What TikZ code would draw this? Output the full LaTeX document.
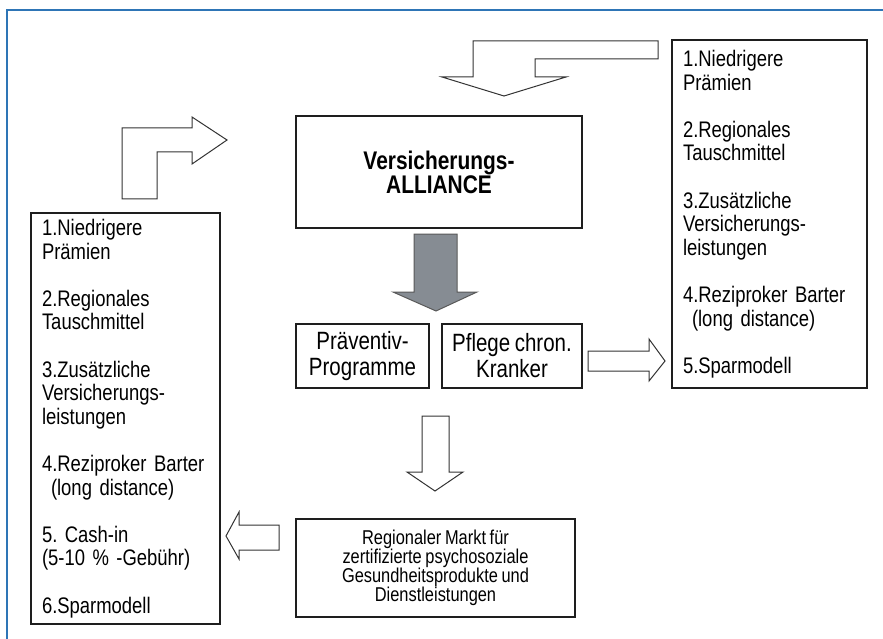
\documentclass[tikz,border=0pt]{standalone}
\usepackage{fontspec}
\setmainfont{Liberation Sans}[FakeStretch=0.82, WordSpace=0.8]
\usepackage{tikz}
\usetikzlibrary{positioning}
\definecolor{frameblue}{RGB}{46,117,182}
\definecolor{arrowgray}{RGB}{134,140,147}
\definecolor{boxline}{RGB}{30,30,30}

\tikzset{
    box/.style={draw=boxline, line width=2.4pt, fill=white, inner sep=0pt, outer sep=0pt, align=center},
    listbox/.style={box, align=left, text width=#1, inner xsep=11pt, font=\fontsize{22.5}{23.6}\selectfont},
    blockarrow/.style={draw=black!80, line width=1pt, fill=white, line join=miter},
    grayarrow/.style={draw=black!65, line width=1pt, fill=arrowgray, line join=miter}
}

\begin{document}
\frenchspacing
\begin{tikzpicture}[x=1pt, y=-1pt]
    \useasboundingbox (0,0) rectangle (883,639);
    \draw[frameblue, line width=1.2pt] (7,639) -- (7,10) -- (883,10);

    \node[box, minimum width=286pt, minimum height=112pt, font=\fontsize{25.5}{24}\selectfont\bfseries] (alliance) at (439,172) {Versicherungs-\\ALLIANCE};
    \node[box, minimum width=133pt, minimum height=64pt, font=\fontsize{25}{26}\selectfont] (praev) at (362.5,356) {Präventiv-\\Programme};
    \node[box, minimum width=140pt, minimum height=64pt, font=\fontsize{25}{26}\selectfont, right=13pt of praev] (pflege) {Pflege chron.\\Kranker};
    \node[box, minimum width=279pt, minimum height=98pt, font=\fontsize{20}{19}\selectfont] (markt) at (435.5,568) {Regionaler Markt für\\zertifizierte psychosoziale\\Gesundheitsprodukte und\\Dienstleistungen};

    \node[listbox=167pt, minimum height=411pt] (leftlist) at (125.5,418.5) {1.Niedrigere\\Prämien\\[23.6pt]2.Regionales\\Tauschmittel\\[23.6pt]3.Zusätzliche\\Versicherungs-\\leistungen\\[23.6pt]4.Reziproker Barter\\\hspace*{9pt}(long distance)\\[23.6pt]5. Cash-in\\(5-10 \% -Gebühr)\\[23.6pt]6.Sparmodell};
    \node[listbox=173pt, minimum height=348pt] (rightlist) at (769.5,214) {1.Niedrigere\\Prämien\\[23.6pt]2.Regionales\\Tauschmittel\\[23.6pt]3.Zusätzliche\\Versicherungs-\\leistungen\\[23.6pt]4.Reziproker Barter\\\hspace*{9pt}(long distance)\\[23.6pt]5.Sparmodell};

    % block arrows
    \draw[blockarrow] (122,199) -- (122,128) -- (192,128) -- (192,117) -- (227,140) -- (192,164) -- (192,152) -- (157,152) -- (157,199) -- cycle;
    \draw[blockarrow] (658,41) -- (473,41) -- (473,77) -- (442,77) -- (504,96) -- (566,77) -- (535,77) -- (535,59) -- (658,59) -- cycle;
    \draw[grayarrow] (414,234) -- (457,234) -- (457,292) -- (477,292) -- (436,311) -- (393,292) -- (414,292) -- cycle;
    \draw[blockarrow] (422,416) -- (449,416) -- (449,472) -- (463,472) -- (435,491) -- (407,472) -- (422,472) -- cycle;
    \draw[blockarrow] (588,351) -- (649,351) -- (649,339) -- (665,361) -- (649,381) -- (649,371) -- (588,371) -- cycle;
    \draw[blockarrow] (279,525) -- (239,525) -- (239,512) -- (226,536) -- (239,559) -- (239,550) -- (279,550) -- cycle;
\end{tikzpicture}
\end{document}
